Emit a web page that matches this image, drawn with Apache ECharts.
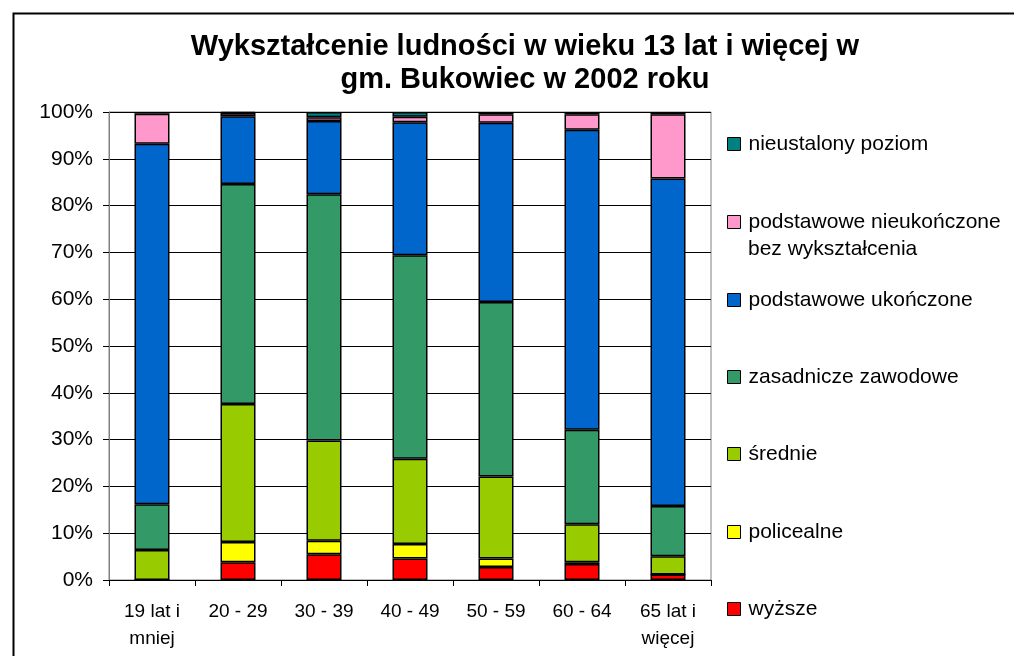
<!DOCTYPE html>
<html>
<head>
<meta charset="utf-8">
<title>Wykształcenie ludności</title>
<script src="https://cdn.jsdelivr.net/npm/echarts@6/dist/echarts.min.js"></script>
<style>
  html, body { margin: 0; padding: 0; background: #fff; }
  #main { width: 1014px; height: 656px; }
</style>
</head>
<body>
<div id="main"></div>
<script>
// grupy wieku
var categories = ['19 lat i\nmniej', '20 - 29', '30 - 39', '40 - 49', '50 - 59', '60 - 64', '65 lat i\nwięcej'];
// udziały w % (od dołu słupka)
var wyzsze        = [0.0, 3.8, 5.5, 4.6, 2.8, 3.4, 1.2];
var policealne    = [0.0, 4.3, 2.9, 3.1, 1.8, 0.4, 0.0];
var srednie       = [6.4, 29.5, 21.4, 18.2, 17.5, 8.1, 3.9];
var zasadnicze    = [9.8, 47.0, 52.6, 43.5, 37.3, 20.2, 10.7];
var podstUkoncz   = [77.0, 14.5, 15.7, 28.4, 38.3, 64.1, 70.0];
var podstNieukon  = [6.4, 0.7, 0.8, 1.2, 1.8, 3.3, 13.7];
var nieustalony   = [0.4, 0.2, 1.1, 1.0, 0.5, 0.5, 0.5];
var yTicks = [0, 10, 20, 30, 40, 50, 60, 70, 80, 90, 100];

var seriesNames = ['wyższe', 'policealne', 'średnie', 'zasadnicze zawodowe', 'podstawowe ukończone', 'podstawowe nieukończone\nbez wykształcenia', 'nieustalony poziom'];
var seriesData  = [wyzsze, policealne, srednie, zasadnicze, podstUkoncz, podstNieukon, nieustalony];
var colors = ['#FF0000', '#FFFF00', '#99CC00', '#339966', '#0066CC', '#FF99CC', '#008080'];

var FONT = 'Liberation Sans, Arial, sans-serif';

var myChart = echarts.init(document.getElementById('main'));

//słupki
var series = [];
for (var i = 0; i < seriesNames.length; i++) {
    series.push({
        name: seriesNames[i],
        type: 'bar',
        stack: 'sum',
        barWidth: 35,
        itemStyle: {
            color: colors[i],
            borderColor: '#000',
            borderWidth: 1.5
        },
        data: seriesData[i]
    });
}

//legenda - każda pozycja osobno (środek pozycji w pionie)
var legendCenter = [609, 532, 454, 377, 300, 222, 144];
var legends = [];
for (var j = 0; j < seriesNames.length; j++) {
    legends.push({
        data: [seriesNames[j]],
        left: 727,
        top: legendCenter[j] - 11,
        padding: 0,
        icon: 'rect',
        itemWidth: 13,
        itemHeight: 13,
        selectedMode: false,
        itemStyle: { borderColor: '#000', borderWidth: 1 },
        formatter: function (name) {
            return name.split('\n')[0];
        },
        textStyle: {
            fontFamily: FONT,
            fontSize: 21,
            lineHeight: 22,
            color: '#000',
            padding: [0, 0, 0, 3]
        }
    });
}

var option = {
    animation: false,
    backgroundColor: '#fff',
    title: {
        text: 'Wykształcenie ludności w wieku 13 lat i więcej w\ngm. Bukowiec w 2002 roku',
        left: 520,
        top: 25,
        textAlign: 'center',
        textStyle: {
            fontFamily: FONT,
            fontSize: 29,
            fontWeight: 'bold',
            lineHeight: 33,
            color: '#000'
        }
    },
    legend: legends,
    grid: {
        left: 109,
        right: 303,
        top: 112,
        bottom: 76,
        show: true,
        borderColor: '#808080',
        borderWidth: 1
    },
    xAxis: {
        type: 'category',
        data: categories,
        axisLine: { lineStyle: { color: '#000', width: 1 } },
        axisTick: { show: true, length: 6, lineStyle: { color: '#000' } },
        axisLabel: {
            margin: 18,
            fontFamily: FONT,
            fontSize: 19,
            lineHeight: 27,
            color: '#000'
        }
    },
    yAxis: {
        type: 'value',
        min: yTicks[0],
        max: yTicks[yTicks.length - 1],
        interval: 10,
        axisLine: { show: true, lineStyle: { color: '#808080', width: 1 } },
        axisTick: { show: true, length: 6, lineStyle: { color: '#000' } },
        axisLabel: {
            margin: 16,
            formatter: '{value}%',
            fontFamily: FONT,
            fontSize: 21,
            color: '#000'
        },
        splitLine: { show: true, lineStyle: { color: '#000', width: 1 } }
    },
    graphic: [
        {
            //ramka wykresu
            type: 'rect',
            left: 11,
            top: 11,
            shape: { width: 1012, height: 660 },
            style: { fill: 'none', stroke: '#000', lineWidth: 2 },
            z: -1
        },
        {
            //druga linia opisu w legendzie
            type: 'text',
            left: 748,
            top: 239,
            style: {
                text: 'bez wykształcenia',
                fontFamily: FONT,
                fontSize: 21,
                fill: '#000'
            }
        }
    ],
    series: series
};

myChart.setOption(option);
</script>
</body>
</html>
